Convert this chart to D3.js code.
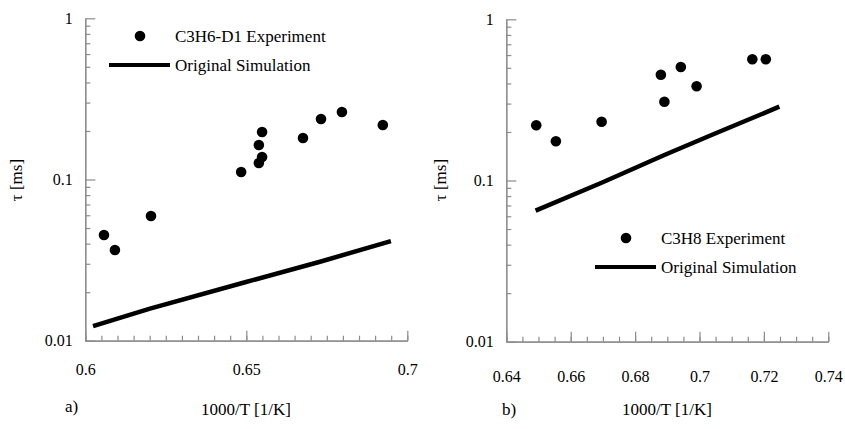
<!DOCTYPE html>
<html lang="en">
<head>
    <meta charset="UTF-8">
    <title>Ignition delay: C3H6-D1 and C3H8</title>
    <script src="https://d3js.org/d3.v7.min.js"></script>
    <style>
        body { margin: 0; background: #fff; }
        svg { display: block; font-family: "Liberation Serif", "Times New Roman", Times, serif; }
        .axis path, .axis line { stroke: #8c8c8c; stroke-width: 1.2px; }
        .axis text { fill: #000; font-size: 16px; font-family: "Liberation Serif", "Times New Roman", Times, serif; }
        .label { font-size: 17px; fill: #000; font-family: "Liberation Serif", "Times New Roman", Times, serif; }
    </style>
</head>
<body>
<svg id="chart" width="845" height="429"></svg>
<script>
    // panel a) C3H6-D1
    const c3h6ExpX = [0.6058, 0.6092, 0.6204, 0.6484, 0.6539, 0.6549, 0.6539, 0.6549, 0.6676, 0.6732, 0.6797, 0.6924];
    const c3h6ExpTau = [0.0453, 0.0365, 0.0594, 0.1112, 0.1637, 0.197, 0.1266, 0.1379, 0.181, 0.2373, 0.2622, 0.218];
    const c3h6SimX = [0.6024, 0.6201, 0.6499, 0.6729, 0.6949];
    const c3h6SimTau = [0.01233, 0.0158, 0.02312, 0.0309, 0.0415];

    // panel b) C3H8
    const c3h8ExpX = [0.6493, 0.6554, 0.6696, 0.6880, 0.6891, 0.6942, 0.6991, 0.7164, 0.7206];
    const c3h8ExpTau = [0.220, 0.175, 0.2316, 0.453, 0.308, 0.506, 0.384, 0.565, 0.565];
    const c3h8SimX = [0.6491, 0.6696, 0.6891, 0.7043, 0.7248];
    const c3h8SimTau = [0.0650, 0.0969, 0.1439, 0.1935, 0.287];

    const leftXTicks = [0.6, 0.65, 0.7];
    const rightXTicks = [0.64, 0.66, 0.68, 0.7, 0.72, 0.74];
    const yTicks = [0.01, 0.1, 1];
    const leftLegend = ["C3H6-D1 Experiment", "Original Simulation"];
    const rightLegend = ["C3H8 Experiment", "Original Simulation"];

    const svg = d3.select("#chart");
    svg.append("rect").attr("width", 845).attr("height", 429).attr("fill", "#fff");

    const yMinor = [];
    [0.01, 0.1].forEach(d => d3.range(2, 10).forEach(k => yMinor.push(d * k)));

    function drawPanel(p) {
        const x = d3.scaleLinear().domain(p.xDomain).range([p.x0, p.x1]);
        const y = d3.scaleLog().domain([0.01, 1]).range([p.y0, p.y1]);
        const g = svg.append("g");

        const xMinor = d3.range(p.xDomain[0], p.xDomain[1] + 1e-9, 0.005);

        // minor ticks first, then the labelled ones
        g.append("g").attr("class", "axis").attr("transform", `translate(0,${p.y0})`)
            .call(d3.axisBottom(x).tickValues(xMinor).tickSize(-5).tickSizeOuter(0).tickFormat(""));
        g.append("g").attr("class", "axis").attr("transform", `translate(0,${p.y0})`)
            .call(d3.axisBottom(x).tickValues(p.xTicks).tickSize(-10).tickSizeOuter(0)
                .tickPadding(p.xPad).tickFormat(d3.format("")));

        g.append("g").attr("class", "axis").attr("transform", `translate(${p.x0},0)`)
            .call(d3.axisLeft(y).tickValues(yMinor).tickSize(-5).tickSizeOuter(0).tickFormat(""));
        g.append("g").attr("class", "axis").attr("transform", `translate(${p.x0},0)`)
            .call(d3.axisLeft(y).tickValues(yTicks).tickSize(-10).tickSizeOuter(0)
                .tickPadding(12.5).tickFormat(d3.format("")));

        const line = d3.line().x(d => x(d[0])).y(d => y(d[1]));
        g.append("path")
            .datum(d3.zip(p.simX, p.simTau))
            .attr("d", line)
            .attr("fill", "none").attr("stroke", "#000").attr("stroke-width", 4.5);

        g.selectAll("circle.exp")
            .data(d3.zip(p.expX, p.expTau))
            .join("circle")
            .attr("class", "exp")
            .attr("cx", d => x(d[0])).attr("cy", d => y(d[1]))
            .attr("r", 5.3).attr("fill", "#000");

        // legend
        const lg = g.append("g").attr("transform", `translate(${p.legX},${p.legY})`);
        lg.append("circle").attr("cx", 31).attr("cy", 0).attr("r", 5.3).attr("fill", "#000");
        lg.append("text").attr("class", "label").attr("x", 66).attr("y", 0)
            .attr("dominant-baseline", "central").text(p.legend[0]);
        lg.append("line").attr("x1", 0).attr("x2", 61).attr("y1", 29).attr("y2", 29)
            .attr("stroke", "#000").attr("stroke-width", 4);
        lg.append("text").attr("class", "label").attr("x", 66).attr("y", 29)
            .attr("dominant-baseline", "central").text(p.legend[1]);

        // axis titles
        g.append("text").attr("class", "label")
            .attr("transform", `translate(${p.yLabX},180) rotate(-90)`)
            .attr("text-anchor", "middle").attr("dominant-baseline", "central")
            .text("τ [ms]");
        g.append("text").attr("class", "label")
            .attr("x", p.xLabX).attr("y", 415).attr("text-anchor", "middle")
            .text("1000/T [1/K]");
        g.append("text").attr("class", "label")
            .attr("x", p.tagX).attr("y", p.tagY).text(p.tag);
    }

    drawPanel({
        xDomain: [0.6, 0.7], xTicks: leftXTicks, x0: 85.3, x1: 407.3, y0: 340.7, y1: 18.3, xPad: 23,
        expX: c3h6ExpX, expTau: c3h6ExpTau, simX: c3h6SimX, simTau: c3h6SimTau,
        legend: leftLegend, legX: 109, legY: 36, yLabX: 16, xLabX: 246, tag: "a)", tagX: 65, tagY: 412
    });
    drawPanel({
        xDomain: [0.64, 0.74], xTicks: rightXTicks, x0: 506.3, x1: 828.3, y0: 341.7, y1: 19.3, xPad: 28.5,
        expX: c3h8ExpX, expTau: c3h8ExpTau, simX: c3h8SimX, simTau: c3h8SimTau,
        legend: rightLegend, legX: 595, legY: 238, yLabX: 440, xLabX: 667, tag: "b)", tagX: 502, tagY: 415
    });
</script>
</body>
</html>
